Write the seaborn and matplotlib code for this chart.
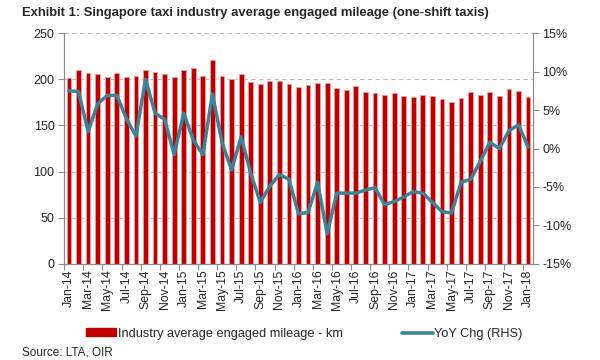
import numpy as np
import pandas as pd
import matplotlib
matplotlib.use("Agg")
import matplotlib.pyplot as plt
import seaborn as sns
from matplotlib.patches import Patch
from matplotlib.lines import Line2D
from matplotlib.ticker import FixedLocator, FuncFormatter

months = pd.date_range("2014-01-01", "2018-01-01", freq="MS").strftime("%b-%y").tolist()

mileage = [201, 210, 207, 206, 203, 207, 203, 204, 210, 208, 206, 203,
           210, 212, 204, 221, 204, 200, 206, 197, 195, 198, 198, 195,
           192, 194, 196, 196, 191, 188, 193, 186, 185, 183, 185, 182,
           181, 183, 182, 179, 175, 180, 186, 183, 186, 182, 189, 187,
           181]

yoy = [7.5, 7.4, 2.2, 5.8, 6.9, 6.9, 3.9, 1.6, 9.0, 4.6, 3.8, -0.8,
       4.6, 1.1, -0.8, 7.1, 0.8, -2.8, 1.5, -3.2, -7.0, -4.9, -3.4, -4.0,
       -8.5, -8.3, -4.4, -11.1, -5.8, -5.8, -5.8, -5.4, -5.1, -7.3, -6.9, -6.3,
       -5.6, -5.8, -7.0, -8.2, -8.4, -4.4, -4.0, -1.7, 0.8, 0.0, 2.3, 3.1,
       0.2]

df = pd.DataFrame({"month": months, "mileage": mileage, "yoy": yoy,
                   "pos": np.arange(len(months))})

sns.set_theme(style="white")
plt.rcParams["font.family"] = ["Liberation Sans", "DejaVu Sans"]

fig = plt.figure(figsize=(6, 3.6), dpi=100)
ax = fig.add_axes([0.107, 0.267, 0.781, 0.641])

bar_color = "#C00000"
line_color = "#3C8399"
grey = "#8C8C8C"

sns.barplot(data=df, x="month", y="mileage", color=bar_color, width=0.5,
            edgecolor="#F2A0A0", linewidth=0.6, saturation=1, ax=ax, zorder=2)
ax.set_xlim(-0.5, len(months) - 0.5)
ax.set_ylim(0, 250)
ax.set_yticks(np.arange(0, 251, 50))
ax.yaxis.grid(True, linestyle=(0, (4, 3)), color="#BDBDBD", linewidth=0.8, zorder=0)
ax.set_axisbelow(True)
ax.set_xlabel("")
ax.set_ylabel("")

ax.set_xticks(np.arange(0, len(months), 2))
ax.set_xticklabels(months[::2], rotation=90, fontsize=8.8)
ax.xaxis.set_minor_locator(FixedLocator(np.arange(-0.5, len(months), 2)))
ax.tick_params(axis="x", which="major", length=0, pad=4)
ax.tick_params(axis="x", which="minor", length=4, color=grey, width=0.8, bottom=True)
ax.tick_params(axis="y", labelsize=9, length=4, color=grey, width=0.8, left=True, pad=3)

ax.spines["top"].set_visible(False)
for s in ["left", "right", "bottom"]:
    ax.spines[s].set_color(grey)
    ax.spines[s].set_linewidth(0.8)

ax2 = ax.twinx()
sns.lineplot(data=df, x="pos", y="yoy", color=line_color, linewidth=2.5, ax=ax2, zorder=3)
ax2.set_ylim(-15, 15)
ax2.set_yticks(np.arange(-15, 16, 5))
ax2.yaxis.set_major_formatter(FuncFormatter(lambda v, p: f"{v:.0f}%"))
ax2.set_xlim(-0.5, len(months) - 0.5)
ax2.set_xlabel("")
ax2.set_ylabel("")
ax2.grid(False)
ax2.tick_params(axis="y", labelsize=9, length=4, color=grey, width=0.8, right=True, pad=3)
ax2.spines["top"].set_visible(False)
for s in ["left", "right", "bottom"]:
    ax2.spines[s].set_color(grey)
    ax2.spines[s].set_linewidth(0.8)

fig.text(0.037, 0.965, "Exhibit 1: Singapore taxi industry average engaged mileage (one-shift taxis)",
         fontsize=9.4, fontweight="bold", ha="left", va="center")

handles = [Patch(facecolor=bar_color, edgecolor=bar_color),
           Line2D([0], [0], color=line_color, linewidth=2.6)]
labels = ["Industry average engaged mileage - km", "YoY Chg (RHS)"]
fig.legend(handles, labels, loc="center", bbox_to_anchor=(0.507, 0.073), ncol=2,
           frameon=False, fontsize=9.2, columnspacing=4.6, handlelength=2.4,
           handletextpad=0.15, handleheight=0.55)

fig.text(0.037, 0.022, "Source: LTA, OIR", fontsize=8.5, ha="left", va="center")

fig.savefig("out.png", dpi=100)
